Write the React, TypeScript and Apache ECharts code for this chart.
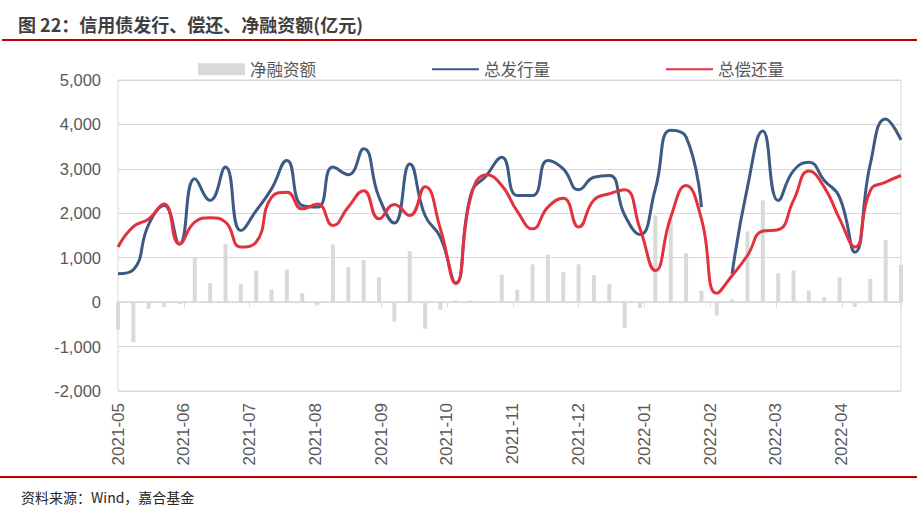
import React, { useEffect, useRef } from "react";
import * as echarts from "echarts";

const dates = [
  "2021-05-07", "2021-05-14", "2021-05-21", "2021-05-28",
  "2021-06-04", "2021-06-11", "2021-06-18", "2021-06-25",
  "2021-07-02", "2021-07-09", "2021-07-16", "2021-07-23", "2021-07-30",
  "2021-08-06", "2021-08-13", "2021-08-20", "2021-08-27",
  "2021-09-03", "2021-09-10", "2021-09-17", "2021-09-24",
  "2021-10-01", "2021-10-08", "2021-10-15", "2021-10-22", "2021-10-29",
  "2021-11-05", "2021-11-12", "2021-11-19", "2021-11-26",
  "2021-12-03", "2021-12-10", "2021-12-17", "2021-12-24", "2021-12-31",
  "2022-01-07", "2022-01-14", "2022-01-21", "2022-01-28",
  "2022-02-04", "2022-02-11", "2022-02-18", "2022-02-25",
  "2022-03-04", "2022-03-11", "2022-03-18", "2022-03-25",
  "2022-04-01", "2022-04-08", "2022-04-15", "2022-04-22", "2022-04-29",
];

const monthLabels = [
  "2021-05", "2021-06", "2021-07", "2021-08", "2021-09", "2021-10",
  "2021-11", "2021-12", "2022-01", "2022-02", "2022-03", "2022-04",
];

const netFinancing = [
  -620, -900, -150, -110, -40, 1000, 430, 1310, 410, 710, 285, 735, 200,
  -60, 1300, 790, 950, 560, -435, 1150, -600, -170, 40, 40, 15, 615,
  280, 850, 1070, 675, 850, 610, 405, -580, -130, 1950, 1880, 1100, 260,
  -300, 60, 1590, 2290, 650, 710, 260, 110, 560, -110, 525, 1400, 840,
];

const totalIssuance = [
  640, 730, 1750, 2175, 1310, 2775, 2290, 3040, 1610, 2060, 2550, 3190, 2175,
  2140, 3040, 2870, 3450, 2360, 1780, 3110, 1950, 1460, 430, 2440, 2850, 3260,
  2400, 2400, 3190, 3000, 2530, 2810, 2850, 1960, 1520, 2550, 3870, 3720, 2140,
  null, 640, 2590, 3850, 2290, 2960, 3150, 2740, 2360, 1125, 3110, 4125, 3650,
];

const totalRepayment = [
  1240, 1700, 1870, 2210, 1310, 1800, 1900, 1800, 1240, 1350, 2360, 2475, 2100,
  2210, 1725, 2140, 2510, 1875, 2200, 1950, 2600, 1650, 420, 2400, 2870, 2625,
  2050, 1650, 2140, 2340, 1690, 2300, 2440, 2530, 1650, 710, 1910, 2625, 1875,
  200, 600, 1050, 1600, 1630, 2290, 2950, 2590, 1875, 1240, 2510, 2700, 2850,
];

const seriesNames = ["净融资额", "总发行量", "总偿还量"];
const titleText = "图 22：信用债发行、偿还、净融资额(亿元)";
const sourceText = "资料来源：Wind，嘉合基金";

const FONT = '"Liberation Sans", "Noto Sans CJK SC", sans-serif';
const CJK = '"Noto Sans CJK SC", sans-serif';

export default function App() {
  const ref = useRef<HTMLDivElement>(null);

  useEffect(() => {
    if (!ref.current) return;
    const chart = echarts.init(ref.current, undefined, { renderer: "svg" });
    const day0 = Date.parse(dates[0]);
    const xs = dates.map((d) => Math.round((Date.parse(d) - day0) / 86400000));
    const xMax = xs[xs.length - 1];

    const toPairs = (arr: (number | null)[]) =>
      xs.map((x, i) => [x, arr[i] === null ? "-" : arr[i]]);

    chart.setOption({
      animation: false,
      backgroundColor: "#ffffff",
      textStyle: { fontFamily: FONT },
      grid: {
        left: 118,
        right: 16,
        top: 80,
        bottom: 121,
        show: true,
        borderColor: "#d9d9d9",
        borderWidth: 1,
      },
      legend: {
        left: 193,
        top: 56,
        itemWidth: 47,
        itemHeight: 12,
        itemGap: 115,
        textStyle: { fontSize: 16.5, color: "#595959", fontFamily: CJK },
        data: [
          { name: seriesNames[0], icon: "rect" },
          { name: seriesNames[1], itemStyle: { opacity: 0 } },
          { name: seriesNames[2], itemStyle: { opacity: 0 } },
        ],
      },
      xAxis: [
        {
          type: "value",
          min: 0,
          max: xMax,
          interval: 30,
          position: "bottom",
          axisLine: { show: false, onZero: false },
          axisTick: { show: false },
          splitLine: { show: false },
          axisLabel: {
            rotate: 90,
            margin: 12,
            fontSize: 17,
            color: "#595959",
            formatter: (v: number) =>
              v % 30 === 0 && monthLabels[v / 30] ? monthLabels[v / 30] : "",
          },
        },
        {
          type: "value",
          min: 0,
          max: xMax,
          interval: 30,
          position: "bottom",
          axisLine: { show: true, onZero: true, lineStyle: { color: "#d9d9d9", width: 1.5 } },
          axisTick: { show: true, length: 5, lineStyle: { color: "#d9d9d9" } },
          axisLabel: { show: false },
          splitLine: { show: false },
        },
      ],
      yAxis: {
        type: "value",
        min: -2000,
        max: 5000,
        interval: 1000,
        axisLine: { show: false },
        axisTick: { show: false },
        splitLine: { lineStyle: { color: "#d9d9d9", width: 1 } },
        axisLabel: {
          fontSize: 16.5,
          color: "#595959",
          margin: 17,
          formatter: (v: number) => v.toLocaleString("en-US"),
        },
      },
      series: [
        {
          name: seriesNames[0],
          type: "bar",
          xAxisIndex: 0,
          barWidth: 4,
          itemStyle: { color: "#d9d9d9" },
          data: toPairs(netFinancing),
        },
        {
          name: seriesNames[1],
          type: "line",
          xAxisIndex: 0,
          smooth: 0.5,
          symbol: "none",
          connectNulls: false,
          lineStyle: { width: 3, color: "#3c5a82" },
          itemStyle: { color: "#3c5a82" },
          data: toPairs(totalIssuance),
        },
        {
          name: seriesNames[2],
          type: "line",
          xAxisIndex: 0,
          smooth: 0.5,
          symbol: "none",
          lineStyle: { width: 3, color: "#e2323f" },
          itemStyle: { color: "#e2323f" },
          data: toPairs(totalRepayment),
        },
      ],
      graphic: [
        {
          type: "text",
          x: 18,
          y: 24,
          style: {
            text: titleText,
            font: `bold 18px ${CJK}`,
            fill: "#3f3f3f",
            verticalAlign: "middle",
          },
        },
        {
          type: "rect",
          shape: { x: 2, y: 39, width: 915, height: 2 },
          style: { fill: "#c00000" },
        },
        {
          type: "rect",
          shape: { x: 0, y: 476, width: 917, height: 2 },
          style: { fill: "#c00000" },
        },
        {
          type: "text",
          x: 21,
          y: 497,
          style: {
            text: sourceText,
            font: `14px ${CJK}`,
            fill: "#262626",
            verticalAlign: "middle",
          },
        },
      ],
    });

    return () => chart.dispose();
  }, []);

  return (
    <div
      ref={ref}
      style={{ position: "fixed", left: 0, top: 0, width: 917, height: 512, background: "#fff" }}
    />
  );
}
